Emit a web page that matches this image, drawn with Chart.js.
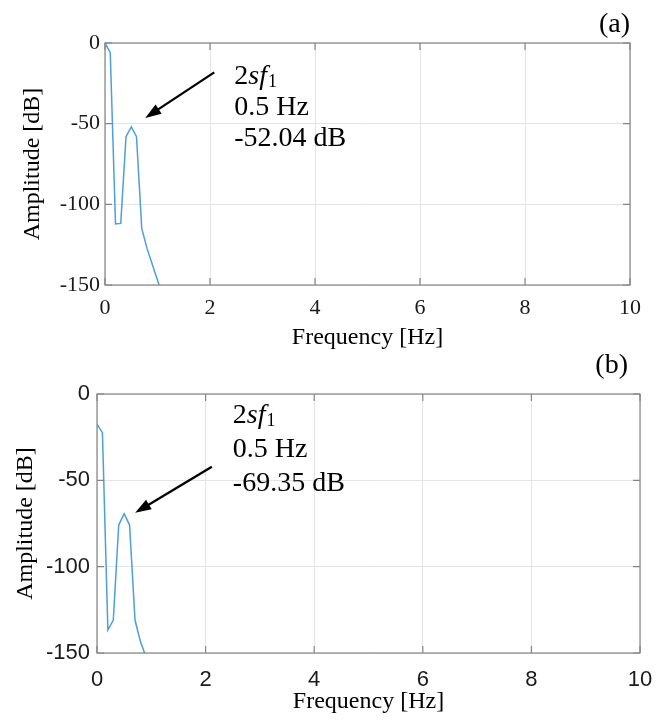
<!DOCTYPE html>
<html><head><meta charset="utf-8">
<script src="https://cdn.jsdelivr.net/npm/chart.js@4.4.1/dist/chart.umd.min.js"></script>
<style>
html,body{margin:0;padding:0;background:#fff;}
body{width:656px;height:723px;position:relative;overflow:hidden;}
canvas{position:absolute;left:0;display:block;}
#ca{top:0;}
#cb{top:340px;}
</style></head><body>
<canvas id="ca" width="656" height="360"></canvas>
<canvas id="cb" width="656" height="383"></canvas>
<script>
// ---- data ----
const freqA = [0, 0.1, 0.2, 0.3, 0.4, 0.5, 0.6, 0.7, 0.8, 0.9, 1.0, 1.1];
const ampA  = [0, -6, -112.2, -111.8, -58.1, -52.04, -58.1, -114.9, -127.3, -137.2, -147.1, -157];
const freqB = [0, 0.1, 0.2, 0.3, 0.4, 0.5, 0.6, 0.7, 0.8, 0.9];
const ampB  = [-17.4, -22.4, -136.7, -130.9, -75.9, -69.35, -75.9, -130.9, -143.4, -152];
const xTickValues = [0, 2, 4, 6, 8, 10];
const xTickLabels = ['0', '2', '4', '6', '8', '10'];
const yTickValues = [0, -50, -100, -150];
const yTickLabels = ['0', '-50', '-100', '-150'];
const xTitle = 'Frequency [Hz]';
const yTitle = 'Amplitude [dB]';
const panelLabels = ['(a)', '(b)'];
const peakFreq = [0.5, 0.5];
const peakAmp = [-52.04, -69.35];
const noteLines = [['0.5 Hz', '-52.04 dB'], ['0.5 Hz', '-69.35 dB']];

// detect narrow sans
function hasFont(name){
  const c=document.createElement('canvas').getContext('2d');
  const s='mmmmmmmwwwwlli0123456789';
  c.font='40px monospace'; const a=c.measureText(s).width;
  c.font='40px "'+name+'", monospace'; const b=c.measureText(s).width;
  return Math.abs(a-b)>1;
}
const narrow = hasFont('Liberation Sans Narrow');
const sansTickFont = narrow ? {family:'"Liberation Sans Narrow"', size:25} : {family:'"Liberation Sans", Arial', size:22};

const SERIF = '"Liberation Serif", "Times New Roman", serif';
const lineColor = '#4d9fdb';
const gridColor = '#e4e4e4';
const frameColor = '#858585';

function framePlugin(cfg){
  return {
    id:'frame'+cfg.id,
    afterDatasetsDraw(chart){
      const ctx=chart.ctx, a=chart.chartArea, xs=chart.scales.x, ys=chart.scales.y;
      ctx.save();
      ctx.strokeStyle=frameColor; ctx.lineWidth=1.2;
      const tl=7;
      ctx.beginPath();
      xTickValues.forEach(v=>{const p=xs.getPixelForValue(v);
        ctx.moveTo(p,a.bottom); ctx.lineTo(p,a.bottom-tl);
        ctx.moveTo(p,a.top); ctx.lineTo(p,a.top+tl);});
      yTickValues.forEach(v=>{const p=ys.getPixelForValue(v);
        ctx.moveTo(a.left,p); ctx.lineTo(a.left+tl,p);
        ctx.moveTo(a.right,p); ctx.lineTo(a.right-tl,p);});
      ctx.stroke();
      ctx.strokeRect(a.left,a.top,a.right-a.left,a.bottom-a.top);
      // arrow
      const px=xs.getPixelForValue(cfg.peakX), py=ys.getPixelForValue(cfg.peakY);
      const hx=px+cfg.headDx, hy=py+cfg.headDy;
      const tx=hx+cfg.tailDx, ty=hy+cfg.tailDy;
      const ang=Math.atan2(hy-ty,hx-tx), c=Math.cos(ang), s=Math.sin(ang);
      const L=16, W=5.5;
      ctx.strokeStyle='#000'; ctx.fillStyle='#000'; ctx.lineWidth=2.3;
      ctx.beginPath(); ctx.moveTo(tx,ty); ctx.lineTo(hx-L*0.8*c,hy-L*0.8*s); ctx.stroke();
      ctx.beginPath(); ctx.moveTo(hx,hy);
      ctx.lineTo(hx-L*c+W*s, hy-L*s-W*c);
      ctx.lineTo(hx-L*c-W*s, hy-L*s+W*c);
      ctx.closePath(); ctx.fill();
      // text
      const lx=tx+cfg.textDx;
      ctx.fillStyle='#000'; ctx.textAlign='left'; ctx.textBaseline='alphabetic';
      ctx.font='28px '+SERIF;
      let b0=ty+cfg.baseDy[0];
      ctx.fillText('2',lx,b0);
      let w=ctx.measureText('2').width;
      ctx.font='italic 28px '+SERIF;
      ctx.fillText('sf',lx+w,b0);
      w+=ctx.measureText('sf').width;
      ctx.font='18px '+SERIF;
      ctx.fillText('1',lx+w+1,b0+3);
      ctx.font='28px '+SERIF;
      ctx.fillText(cfg.lines[0],lx,ty+cfg.baseDy[1]);
      ctx.fillText(cfg.lines[1],lx,ty+cfg.baseDy[2]);
      // panel label
      ctx.textAlign='right';
      ctx.fillText(cfg.panel,cfg.panelX,cfg.panelY);
      ctx.restore();
    }
  };
}

function makeChart(id, freq, amp, cfg){
  const tickFont = cfg.tickFont;
  return new Chart(document.getElementById(id),{
    type:'line',
    data:{datasets:[{data:freq.map((f,i)=>({x:f,y:amp[i]})),borderColor:lineColor,borderWidth:1.5,pointRadius:0,tension:0,fill:false}]},
    options:{
      responsive:false, animation:false, devicePixelRatio:1,
      layout:{padding:{top:cfg.padTop,right:cfg.padRight,left:0,bottom:0}},
      plugins:{legend:{display:false},tooltip:{enabled:false}},
      scales:{
        x:{type:'linear',min:0,max:10,
          afterBuildTicks:s=>{s.ticks=xTickValues.map(v=>({value:v}));},
          afterFit:s=>{s.height=cfg.xHeight; s.paddingLeft=0; s.paddingRight=0;},
          ticks:{callback:(v,i)=>xTickLabels[i],font:tickFont,color:'#1a1a1a',padding:cfg.xTickPad,maxRotation:0,autoSkip:false},
          grid:{color:gridColor,drawTicks:false,lineWidth:1},
          border:{display:false},
          title:{display:true,text:xTitle,color:'#000',font:{family:SERIF,size:24},padding:{top:0,bottom:cfg.xTitlePad}}},
        y:{type:'linear',min:-150,max:0,
          afterBuildTicks:s=>{s.ticks=yTickValues.map(v=>({value:v}));},
          afterFit:s=>{s.width=cfg.yWidth; s.paddingTop=0; s.paddingBottom=0;},
          ticks:{callback:(v,i)=>yTickLabels[i],font:tickFont,color:'#1a1a1a',padding:cfg.yTickPad,autoSkip:false},
          grid:{color:gridColor,drawTicks:false,lineWidth:1},
          border:{display:false},
          title:{display:true,text:yTitle,color:'#000',font:{family:SERIF,size:24},padding:{top:cfg.yTitlePad,bottom:0}}}
      }
    },
    plugins:[framePlugin(cfg)]
  });
}

makeChart('ca',freqA,ampA,{id:'a',tickFont:{family:SERIF,size:22},
  padTop:43,padRight:26,xHeight:75,yWidth:105,xTickPad:10,yTickPad:5,xTitlePad:7.6,yTitlePad:18.5,
  peakX:peakFreq[0],peakY:peakAmp[0],headDx:14,headDy:-9,tailDx:69,tailDy:-45.6,
  textDx:20,baseDy:[11.3,42.3,73.3],lines:noteLines[0],panel:panelLabels[0],panelX:630,panelY:32});

makeChart('cb',freqB,ampB,{id:'b',tickFont:sansTickFont,
  padTop:54,padRight:16,xHeight:70,yWidth:97,xTickPad:14,yTickPad:7,xTitlePad:6.6,yTitlePad:11.5,
  peakX:peakFreq[1],peakY:peakAmp[1],headDx:11,headDy:-1,tailDx:76.7,tailDy:-46,
  textDx:21,baseDy:[-43.7,-9.7,24.3],lines:noteLines[1],panel:panelLabels[1],panelX:628,panelY:33});
</script>
</body></html>
